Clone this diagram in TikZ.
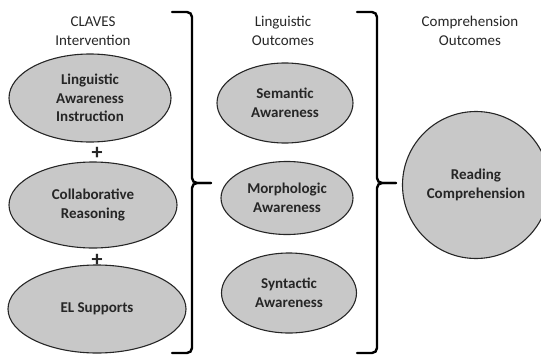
\documentclass[tikz,border=0pt]{standalone}
\usepackage{fontspec}
\setmainfont{Carlito}
\usetikzlibrary{shapes.geometric}
\definecolor{ovalgray}{RGB}{200,200,200}
\definecolor{inkgray}{RGB}{38,38,38}

\begin{document}
\begin{tikzpicture}[
    x=1pt, y=-1pt,
    every node/.style={font=\fontsize{15}{18.5}\selectfont, text=inkgray},
    head/.style ={align=center, inner sep=0pt},
    oval/.style ={draw=black!85, ellipse, fill=ovalgray, line width=1.1pt,
                  align=center, inner sep=0pt, font=\fontsize{15}{18.5}\selectfont\bfseries},
    plus/.style ={font=\fontsize{22}{22}\selectfont\bfseries, inner sep=0pt},
    brace/.style={line width=2.4pt, rounded corners=5pt, line cap=round},
]
\useasboundingbox (0,0) rectangle (541,356);
% headings
\node[head] (hclaves) at (93,31)  {CLAVES\\Intervention};
\node[head] (hling)   at (283,31) {Linguistic\\Outcomes};
\node[head] (hcomp)   at (470,31) {Comprehension\\Outcomes};
% intervention column
\node[oval, minimum width=162pt, minimum height=88pt] (lai) at (90,98)  {Linguistic\\Awareness\\Instruction};
\node[plus] (p1) at (97,153) {+};
\node[oval, minimum width=168pt, minimum height=86pt] (cr)  at (93,205) {Collaborative\\Reasoning};
\node[plus] (p2) at (97,260) {+};
\node[oval, minimum width=178pt, minimum height=88pt] (els) at (97,309) {EL Supports};
% linguistic outcomes
\node[oval, minimum width=136pt, minimum height=80pt] (sem) at (285,103) {Semantic\\Awareness};
\node[oval, minimum width=132pt, minimum height=73pt] (mor) at (287,198) {Morphologic\\Awareness};
\node[oval, minimum width=135pt, minimum height=80pt] (syn) at (289,293) {Syntactic\\Awareness};
% comprehension outcome
\node[oval, circle, minimum size=147pt] (rc) at (476,185) {Reading\\Comprehension};
% brackets
\coordinate (b1top) at (172,12);
\coordinate (b1bot) at (172,353);
\coordinate (b1tip) at (211,183);
\coordinate (b2top) at (357,12);
\coordinate (b2bot) at (357,353);
\coordinate (b2tip) at (396,183);
\draw[brace] (b1top) -- (192,12) -- (192,183) -- (b1tip);
\draw[brace] (b1bot) -- (192,353) -- (192,183) -- (b1tip);
\draw[brace] (b2top) -- (377,12) -- (377,183) -- (b2tip);
\draw[brace] (b2bot) -- (377,353) -- (377,183) -- (b2tip);
\end{tikzpicture}
\end{document}
